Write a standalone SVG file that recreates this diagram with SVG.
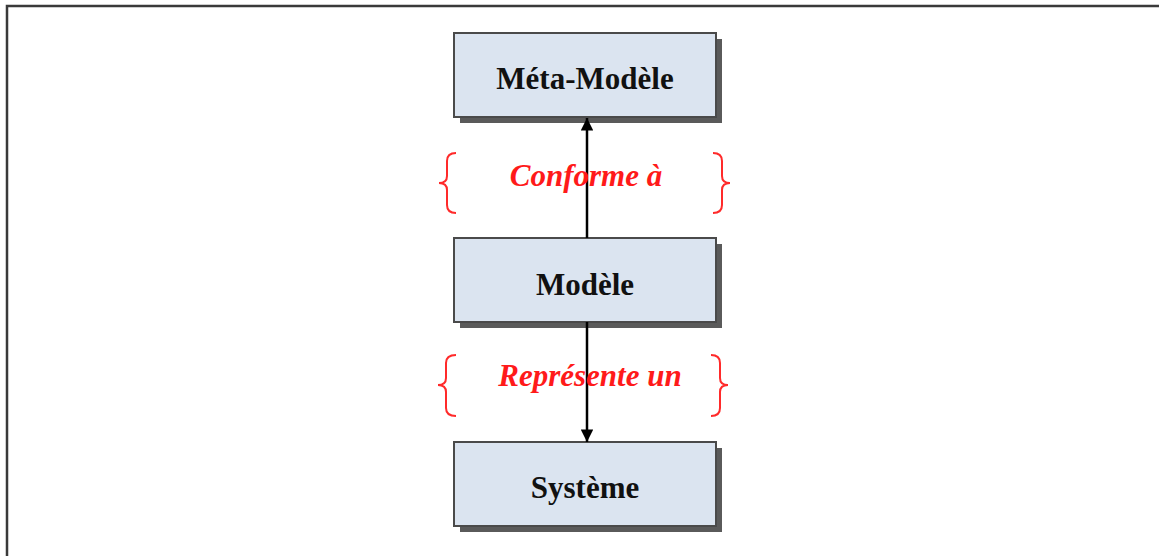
<svg xmlns="http://www.w3.org/2000/svg" width="1159" height="556" viewBox="0 0 1159 556">
<defs>
<style>
.box{fill:#dbe4f0;stroke:#4a4a4a;stroke-width:2}
.shadow{fill:#5a5a5a}
.lbl{font-family:"Liberation Serif",serif;font-weight:bold;font-size:31px;fill:#111;text-anchor:middle}
.rel{font-family:"Liberation Serif",serif;font-weight:bold;font-style:italic;font-size:31px;fill:#ff1a1a;text-anchor:middle}
.brace{fill:none;stroke:#ff2a2a;stroke-width:2}
.conn{stroke:#000;stroke-width:2.5;fill:none}
</style>
<marker id="ah" viewBox="0 0 10 10" refX="10" refY="5" markerWidth="5.5" markerHeight="5" markerUnits="strokeWidth" orient="auto">
<path d="M0,0 L10,5 L0,10 z" fill="#000"/>
</marker>
</defs>
<rect width="1159" height="556" fill="#fff"/>
<path d="M7,556 V6 H1159" fill="none" stroke="#3a3a3a" stroke-width="2.5"/>
<g id="meta-modele">
<rect class="shadow" x="460" y="39" width="262" height="84"/>
<rect class="box" x="454" y="33" width="262" height="84"/>
<text class="lbl" x="585" y="89">Méta-Modèle</text>
</g>
<g id="modele">
<rect class="shadow" x="460" y="244" width="262" height="84"/>
<rect class="box" x="454" y="238" width="262" height="84"/>
<text class="lbl" x="585" y="295">Modèle</text>
</g>
<g id="systeme">
<rect class="shadow" x="460" y="448" width="262" height="84"/>
<rect class="box" x="454" y="442" width="262" height="84"/>
<text class="lbl" x="585" y="498">Système</text>
</g>
<g id="connectors">
<line class="conn" x1="587" y1="238" x2="587" y2="118" marker-end="url(#ah)"/>
<line class="conn" x1="587" y1="322" x2="587" y2="442" marker-end="url(#ah)"/>
</g>
<g id="label-conforme">
<path class="brace" d="M456,153 Q447,153 447,161 V176 Q447,183 439,183 Q447,183 447,190 V205 Q447,213 456,213"/>
<path class="brace" d="M713,153 Q722,153 722,161 V176 Q722,183 730,183 Q722,183 722,190 V205 Q722,213 713,213"/>
<text class="rel" x="586" y="186">Conforme à</text>
</g>
<g id="label-represente">
<path class="brace" d="M456,355 Q446,355 446,363 V378 Q446,385 438,385 Q446,385 446,392 V408 Q446,416 456,416"/>
<path class="brace" d="M711,355 Q720,355 720,363 V378 Q720,385 728,385 Q720,385 720,392 V408 Q720,416 711,416"/>
<text class="rel" x="590" y="386">Représente un</text>
</g>
</svg>
